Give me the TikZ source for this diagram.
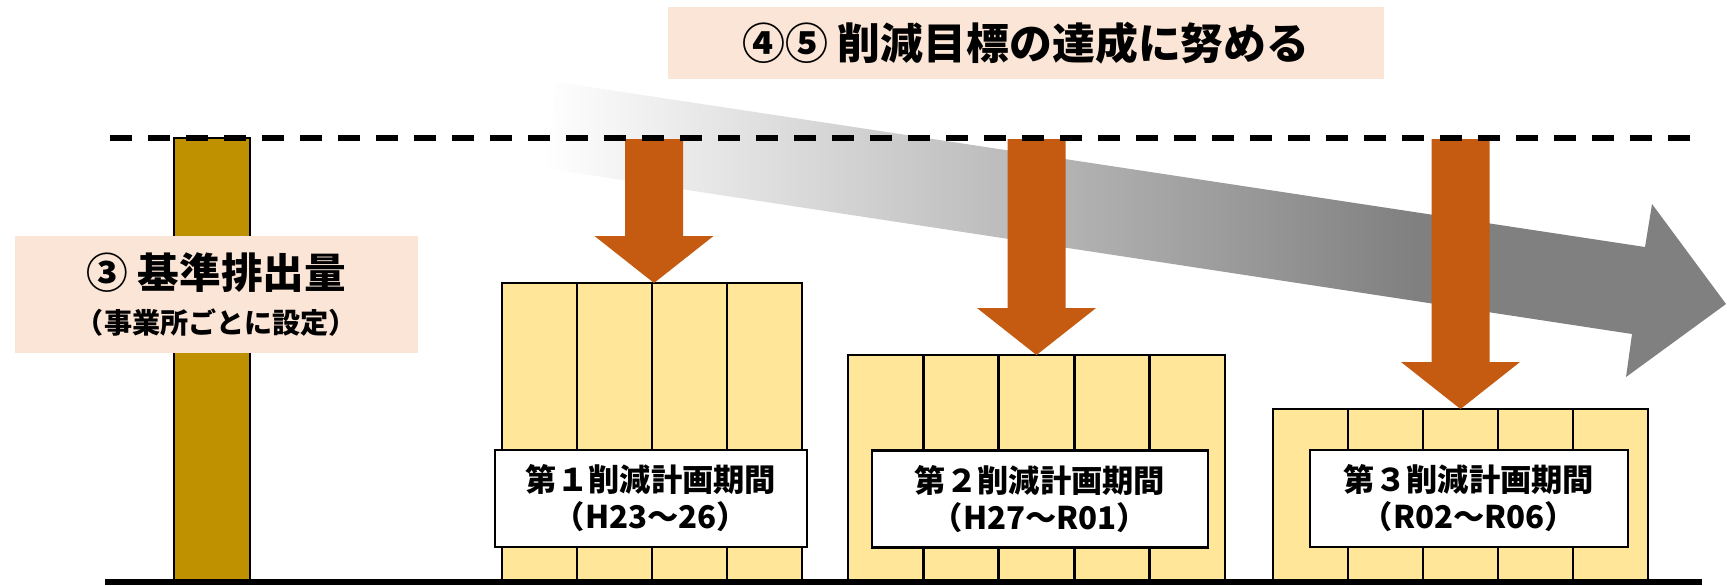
\documentclass[tikz,border=0pt]{standalone}
\usepackage{fontspec}
\setmainfont{Noto Sans CJK JP}
\definecolor{peach}{HTML}{FBE5D6}
\definecolor{pale}{HTML}{FFE699}
\definecolor{gold}{HTML}{BF9000}
\definecolor{rust}{HTML}{C55A11}
\pgfdeclarehorizontalshading{fadegray}{100bp}{color(0bp)=(white); color(25bp)=(white); color(62bp)=(gray); color(100bp)=(gray)}
\begin{document}
\begin{tikzpicture}[
        note/.style={fill=peach,inner sep=0pt,align=center,font=\bfseries},
        period/.style={draw=black,line width=0.8pt,fill=white,inner sep=0pt,align=center,minimum height=0.97cm,font=\bfseries\fontsize{8.9}{10.5}\selectfont},
        block/.style={draw=black,line width=0.8pt,fill=pale},
        cut/.style={fill=rust}
    ]
                \useasboundingbox (0,0) rectangle (17.27,5.85);
                % trend arrow
                \shade[shading=fadegray] (5.57,5.03) -- (16.45,3.38) -- (16.52,3.81) -- (17.26,2.81) -- (16.26,2.08) -- (16.32,2.51) -- (5.43,4.17) -- cycle;
                % base bar
                \draw[fill=gold,line width=0.8pt] (1.74,0.05) rectangle (2.50,4.47);
                \node[note,minimum width=4.03cm,minimum height=1.17cm] (base) at (2.165,2.905) {\fontsize{11.85}{14}\selectfont ③ 基準排出量\\[1pt]\fontsize{8}{10}\selectfont （事業所ごとに設定）};
                % periods
                \foreach \x/\n/\w/\h in {5.02/4/0.75/3.02, 8.48/5/0.754/2.30, 12.73/5/0.75/1.76}{
                    \foreach \i in {1,...,\n}
                        \draw[block] ({\x+(\i-1)*\w},0.05) rectangle ({\x+\i*\w},\h);
                }
                \foreach \c/\t in {6.54/3.02, 10.365/2.30, 14.605/1.76}{
                    \fill[cut] ({\c-0.29},4.46) -- ({\c+0.29},4.46) -- ({\c+0.29},{\t+0.47}) -- ({\c+0.595},{\t+0.47})
                        -- (\c,\t) -- ({\c-0.595},{\t+0.47}) -- ({\c-0.29},{\t+0.47}) -- cycle;
                }
                \draw[line width=1.6pt,dash pattern=on 0.22cm off 0.16cm] (1.10,4.47) -- (17.02,4.47);
                \draw[line width=1.7pt] (1.05,0.03) -- (17.02,0.03);
                \node[period,minimum width=3.12cm] (p1) at (6.51,0.865) {第１削減計画期間\\（H23～26）};
                \node[period,minimum width=3.36cm] (p2) at (10.40,0.86) {第２削減計画期間\\（H27～R01）};
                \node[period,minimum width=3.18cm] (p3) at (14.69,0.865) {第３削減計画期間\\（R02～R06）};
                \node[note,minimum width=7.16cm,minimum height=0.72cm,font=\bfseries\fontsize{12.2}{15}\selectfont] (goal) at (10.26,5.42) {④⑤ 削減目標の達成に努める};
\end{tikzpicture}
\end{document}
